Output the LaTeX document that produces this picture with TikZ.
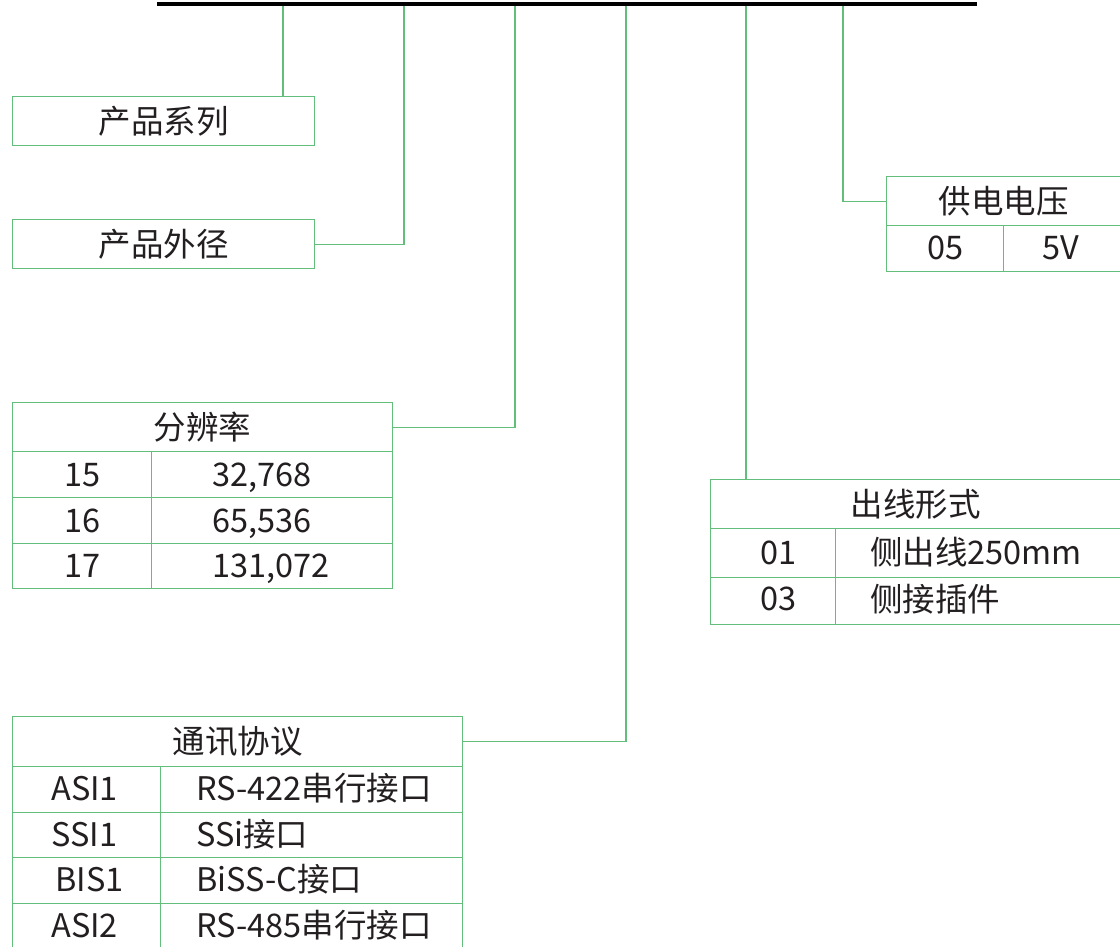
\documentclass[tikz,border=0pt]{standalone}
\usepackage{fontspec}
\setmainfont{Noto Sans CJK SC}
\definecolor{lg}{RGB}{98,190,122}
\definecolor{tx}{RGB}{35,31,32}
\tikzset{
  cell/.style={draw=lg, line width=1.3pt, inner sep=0pt, anchor=north west},
  lbl/.style={text=tx, inner sep=0pt, font=\fontsize{32.5pt}{38pt}\selectfont},
  rowc/.style={lbl, anchor=base},
  roww/.style={lbl, anchor=base west},
  link/.style={draw=lg, line width=1.3pt},
  bar/.style={draw=black, line width=3.5pt},
}
\begin{document}
\begin{tikzpicture}[x=1pt,y=-1pt]
\useasboundingbox (0,0) rectangle (1120,946);
\clip (0,0) rectangle (1120,946);

% bar tap points
\coordinate (barL) at (157,4);
\coordinate (barR) at (977,4);
\coordinate (t1) at (283,4);
\coordinate (t2) at (404,4);
\coordinate (t3) at (515,4);
\coordinate (t4) at (626,4);
\coordinate (t5) at (746,4);
\coordinate (t6) at (843,4);

% product series
\node[cell, minimum width=302pt, minimum height=49pt] (series) at (12,96) {};
\node[lbl] (seriesT) at (series.center) {产品系列};

% outer diameter
\node[cell, minimum width=302pt, minimum height=49pt] (dia) at (12,219) {};
\node[lbl] (diaT) at (dia.center) {产品外径};

% resolution table
\node[cell, minimum width=380pt, minimum height=49pt] (resH) at (12,402) {};
\node[lbl] (resHT) at (resH.center) {分辨率};
\node[cell, minimum width=139pt, minimum height=46pt] (resA1) at (12,451) {};
\node[cell, minimum width=241pt, minimum height=46pt] (resB1) at (151,451) {};
\node[cell, minimum width=139pt, minimum height=46pt] (resA2) at (12,497) {};
\node[cell, minimum width=241pt, minimum height=46pt] (resB2) at (151,497) {};
\node[cell, minimum width=139pt, minimum height=45pt] (resA3) at (12,543) {};
\node[cell, minimum width=241pt, minimum height=45pt] (resB3) at (151,543) {};
\node[rowc] at ([yshift=-11.5pt]resA1.center) {15};
\node[rowc] at ([yshift=-11.5pt]resA2.center) {16};
\node[rowc] at ([yshift=-11.5pt]resA3.center) {17};
\node[roww] at ([xshift=61pt,yshift=-11.5pt]resB1.west) {32,768};
\node[roww] at ([xshift=61pt,yshift=-11.5pt]resB2.west) {65,536};
\node[roww] at ([xshift=61pt,yshift=-11.5pt]resB3.west) {131,072};

% communication protocol table
\node[cell, minimum width=450pt, minimum height=50pt] (comH) at (12,716) {};
\node[lbl] (comHT) at (comH.center) {通讯协议};
\node[cell, minimum width=148pt, minimum height=46pt] (comA1) at (12,766) {};
\node[cell, minimum width=302pt, minimum height=46pt] (comB1) at (160,766) {};
\node[cell, minimum width=148pt, minimum height=45pt] (comA2) at (12,812) {};
\node[cell, minimum width=302pt, minimum height=45pt] (comB2) at (160,812) {};
\node[cell, minimum width=148pt, minimum height=46pt] (comA3) at (12,857) {};
\node[cell, minimum width=302pt, minimum height=46pt] (comB3) at (160,857) {};
\node[cell, minimum width=148pt, minimum height=46pt] (comA4) at (12,903) {};
\node[cell, minimum width=302pt, minimum height=46pt] (comB4) at (160,903) {};
\node[rowc] at ([xshift=-2pt,yshift=-11pt]comA1.center) {ASI1};
\node[rowc] at ([xshift=-2pt,yshift=-11pt]comA2.center) {SSI1};
\node[rowc] at ([xshift=3pt,yshift=-11pt]comA3.center) {BIS1};
\node[rowc] at ([xshift=-2pt,yshift=-11pt]comA4.center) {ASI2};
\node[roww] at ([xshift=36pt,yshift=-11pt]comB1.west) {RS-422串行接口};
\node[roww] at ([xshift=36pt,yshift=-11pt]comB2.west) {SSi接口};
\node[roww] at ([xshift=36pt,yshift=-11pt]comB3.west) {BiSS-C接口};
\node[roww] at ([xshift=36pt,yshift=-11pt]comB4.west) {RS-485串行接口};

% supply voltage table
\node[cell, minimum width=236pt, minimum height=49pt] (volH) at (886,176) {};
\node[lbl] (volHT) at ([xshift=-1pt]volH.center) {供电电压};
\node[cell, minimum width=117pt, minimum height=46pt] (volA1) at (886,225) {};
\node[cell, minimum width=119pt, minimum height=46pt] (volB1) at (1003,225) {};
\node[rowc] at ([yshift=-11pt]volA1.center) {05};
\node[rowc] at ([xshift=-2pt,yshift=-11pt]volB1.center) {5V};

% outlet type table
\node[cell, minimum width=412pt, minimum height=49pt] (outH) at (710,479) {};
\node[lbl] (outHT) at ([xshift=-1pt]outH.center) {出线形式};
\node[cell, minimum width=125pt, minimum height=49pt] (outA1) at (710,528) {};
\node[cell, minimum width=287pt, minimum height=49pt] (outB1) at (835,528) {};
\node[cell, minimum width=125pt, minimum height=47pt] (outA2) at (710,577) {};
\node[cell, minimum width=287pt, minimum height=47pt] (outB2) at (835,577) {};
\node[rowc] at ([xshift=5pt,yshift=-11.5pt]outA1.center) {01};
\node[rowc] at ([xshift=5pt,yshift=-9pt]outA2.center) {03};
\node[roww] at ([xshift=35pt,yshift=-11.5pt]outB1.west) {侧出线250mm};
\node[roww] at ([xshift=35pt,yshift=-10pt]outB2.west) {侧接插件};

% connectors
\draw[link] (t1) -- (t1 |- series.north);
\draw[link] (dia.east) -- (dia.east -| t2) -- (t2);
\draw[link] (resH.east) -- (resH.east -| t3) -- (t3);
\draw[link] (comH.east) -- (comH.east -| t4) -- (t4);
\draw[link] (t5) -- (t5 |- outH.north);
\draw[link] (volH.west) -- (volH.west -| t6) -- (t6);

% top bar
\draw[bar] (barL) -- (barR);
\end{tikzpicture}
\end{document}
